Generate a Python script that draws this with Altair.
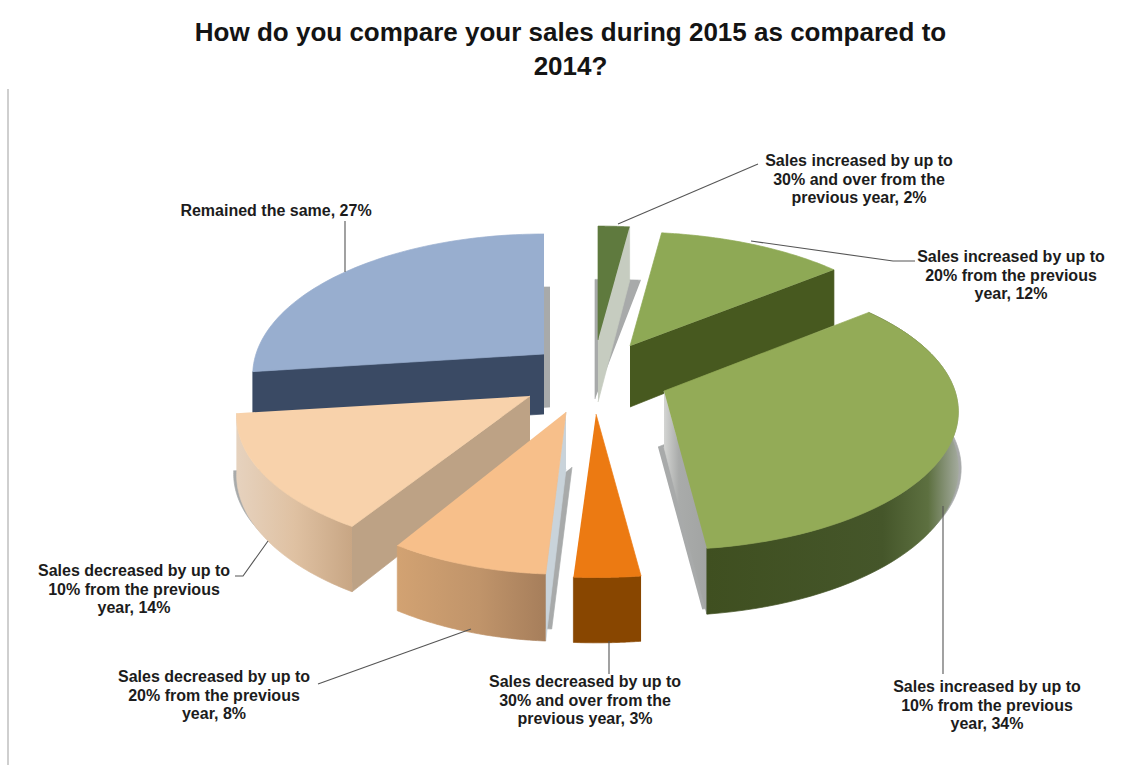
import math
import altair as alt
import numpy as np
import pandas as pd

TITLE_LINES = ["How do you compare your sales during 2015 as compared to", "2014?"]

CATEGORIES = [
    "Sales increased by up to\n30% and over from the\nprevious year",
    "Sales increased by up to\n20% from the previous\nyear",
    "Sales increased by up to\n10% from the previous\nyear",
    "Sales decreased by up to\n30% and over from the\nprevious year",
    "Sales decreased by up to\n20% from the previous\nyear",
    "Sales decreased by up to\n10% from the previous\nyear",
    "Remained the same",
]
SHARES = [2, 12, 34, 3, 8, 14, 27]

# Exploded-pie layout for each slice: apex, radii and thickness on the page.
PERSPECTIVE = 0.15
SLICE_LAYOUT = [
    dict(apex=(598, 336), rx=290, ry=131, depth=62),
    dict(apex=(630, 342), rx=290, ry=131, depth=61),
    dict(apex=(664, 387), rx=291, ry=135, depth=56),
    dict(apex=(596, 410), rx=306, ry=139, depth=55.5),
    dict(apex=(566, 408), rx=275, ry=138, depth=57),
    dict(apex=(530, 392), rx=290, ry=135, depth=57),
    dict(apex=(544, 350), rx=288, ry=138, depth=60),
]


def horizontal(*stops):
    return alt.LinearGradient(
        gradient="linear", x1=0, x2=1, y1=0, y2=0,
        stops=[alt.GradientStop(offset=o, color=c) for o, c in stops],
    )


# Colours and visible parts of each slice; "side" is the radial face, "wall" the rim.
SLICE_STYLE = [
    dict(top="#5f7a3e", side=("end", "#c6ccc0"), shadow=(-3, 59, 1.45, 1.05)),
    dict(top="#8ea955", side=("end", "#47591f")),
    dict(top="#93ab57", side=("end", horizontal((0, "#d4d5d3"), (0.35, "#a9abaa"), (1, "#a2a4a3"))),
         wall=horizontal((0, "#3f4f20"), (0.7, "#45562a"), (0.88, "#5d7040"), (1, "#a3aa9d")),
         shadow=(-6, 56, 1.03, 1.03)),
    dict(top="#ec7a12", wall="#884600"),
    dict(top="#f7bf8a", side=("start", "#c9d3da"),
         wall=horizontal((0, "#d2a272"), (0.55, "#c0946a"), (1, "#a67e5b")),
         shadow=(6, 55, 1.0, 1.0)),
    dict(top="#f8d2ab", side=("start", "#bda285"),
         wall=horizontal((0, "#e6d2be"), (0.5, "#dfc1a2"), (1, "#c8a684")),
         shadow=(-3, 57, 1.0, 1.01)),
    dict(top="#98aecf", side=("start", "#3a4a64"), shadow=(6, 53, 1.0, 1.0)),
]
SHADOW_COLOR = "#a8aaaa"
DRAW_ORDER = [6, 5, 4, 0, 1, 2, 3]

# Page position of each label's first line
LABEL_POS = [(859, 157), (1011, 253), (987, 683), (585, 678), (214, 673), (134, 567), (276, 207)]
LEADERS = [
    [(758, 160), (618, 220)],
    [(915, 257), (893, 257), (751, 237)],
    [(943, 502), (943, 670)],
    [(609, 637), (609, 670)],
    [(318, 680), (471, 625)],
    [(235, 572), (243, 572), (268, 537)],
    [(345, 217), (345, 268)],
]

X = alt.X("x:Q", scale=alt.Scale(domain=[0, 1125], nice=False, zero=False), axis=None)
Y = alt.Y("y:Q", scale=alt.Scale(domain=[765, 85], nice=False, zero=False), axis=None)


def project(layout, theta, sx=1.0, sy=1.0, shift=(0, 0), drop=0.0):
    u, v = math.sin(theta), math.cos(theta)
    s = 1.0 / (1.0 + PERSPECTIVE * v)
    ax, ay = layout["apex"]
    return (
        ax + shift[0] + layout["rx"] * sx * u * s,
        ay + shift[1] - layout["ry"] * sy * v * s + drop * s,
    )


def polygon(points, fill, stroke_width=0.7):
    frame = pd.DataFrame(points, columns=["x", "y"]).assign(i=lambda d: np.arange(len(d)))
    return alt.Chart(frame).mark_line(
        fill=fill, stroke=fill, strokeWidth=stroke_width, interpolate="linear"
    ).encode(x=X, y=Y, order=alt.Order("i:Q"))


def slice_layers(index, start, end):
    layout, style = SLICE_LAYOUT[index], SLICE_STYLE[index]
    ax, ay = layout["apex"]
    depth = layout["depth"]
    thetas = np.linspace(start, end, 60)
    layers = []

    if "shadow" in style:
        dx, dy, sx, sy = style["shadow"]
        rim = [project(layout, t, sx, sy, (dx, dy)) for t in thetas]
        layers.append(polygon([(ax + dx, ay + dy)] + rim, SHADOW_COLOR))

    if "side" in style:
        which, colour = style["side"]
        edge = start if which == "start" else end
        layers.append(polygon(
            [(ax, ay), project(layout, edge), project(layout, edge, drop=depth), (ax, ay + depth)],
            colour,
        ))

    if "wall" in style:
        upper = [project(layout, t) for t in thetas]
        lower = [project(layout, t, drop=depth) for t in thetas[::-1]]
        layers.append(polygon(upper + lower, style["wall"]))

    layers.append(polygon([(ax, ay)] + [project(layout, t) for t in thetas], style["top"]))
    return layers


total = sum(SHARES)
bounds = np.cumsum([0] + SHARES) / total * 2 * math.pi

layers = []

# Frame line down the left of the chart area
layers.append(polygon([(8, 85), (8, 765)], "#cfcfcf", 2))

for idx in DRAW_ORDER:
    layers.extend(slice_layers(idx, bounds[idx], bounds[idx + 1]))

for path in LEADERS:
    frame = pd.DataFrame(path, columns=["x", "y"]).assign(i=lambda d: np.arange(len(d)))
    layers.append(
        alt.Chart(frame).mark_line(color="#555555", strokeWidth=1.1).encode(
            x=X, y=Y, order=alt.Order("i:Q")
        )
    )

labels = pd.DataFrame({
    "label": [f"{c}, {s}%" for c, s in zip(CATEGORIES, SHARES)],
    "x": [p[0] for p in LABEL_POS],
    "y": [p[1] for p in LABEL_POS],
})
layers.append(
    alt.Chart(labels).mark_text(
        lineBreak="\n", lineHeight=18.5, align="center", baseline="middle",
        font="Liberation Sans", fontWeight="bold", fontSize=16, color="#1c1c1c",
    ).encode(x=X, y=Y, text="label:N")
)

chart = (
    alt.layer(*layers)
    .properties(
        width=1125,
        height=680,
        padding={"left": 0, "right": 0, "top": 20, "bottom": 0},
        autosize=alt.AutoSizeParams(type="pad"),
        background="#ffffff",
        title=alt.TitleParams(
            text=TITLE_LINES, anchor="middle", dx=8, offset=5, fontSize=26, lineHeight=34,
            font="Liberation Sans", fontWeight="bold", color="#141414",
        ),
    )
    .configure_view(stroke=None)
)

chart.save("out.html", embed_options={"renderer": "svg", "actions": False})
